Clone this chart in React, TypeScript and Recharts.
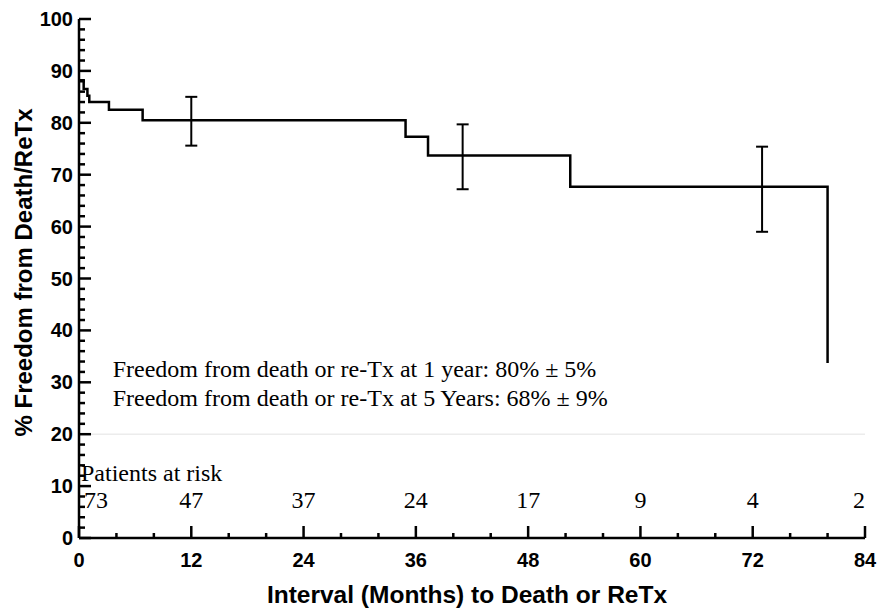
import {
  ComposedChart,
  Line,
  Scatter,
  ErrorBar,
  XAxis,
  YAxis,
  ReferenceLine,
  ReferenceDot,
} from "recharts";

// Kaplan-Meier step curve: months vs % freedom from death / re-Tx
const stepMonths = [0, 0.5, 0.9, 1.1, 3.2, 6.8, 34.9, 37.3, 52.5, 80];
const stepFreedom = [88.2, 86.5, 85.2, 84.0, 82.5, 80.5, 77.3, 73.7, 67.7, 33.7];

// confidence bars (lower / upper distance from the curve)
const barMonths = [12, 41, 73];
const barFreedom = [80.5, 73.7, 67.7];
const barLower = [4.9, 6.5, 8.7];
const barUpper = [4.5, 6.0, 7.7];

// patients at risk row
const riskMonths = [0, 12, 24, 36, 48, 60, 72, 84];
const riskCounts = [73, 47, 37, 24, 17, 9, 4, 2];

const xTicks = Array.from({ length: 22 }, (_, i) => i * 4); // minor every 4, major every 12
const yTicks = Array.from({ length: 51 }, (_, i) => i * 2); // minor every 2, major every 10

const summaryLines = [
  "Freedom from death or re-Tx at 1 year: 80% \u00b1 5%",
  "Freedom from death or re-Tx at 5 Years: 68% \u00b1 9%",
];

const SANS = "'Liberation Sans', Arial, sans-serif";
const SERIF = "'Liberation Serif', 'Times New Roman', serif";

const stepData = stepMonths.map((m, i) => ({ x: m, y: stepFreedom[i] }));
const barData = barMonths.map((m, i) => ({
  x: m,
  y: barFreedom[i],
  err: [barLower[i], barUpper[i]],
}));

const XTick = ({ x, y, payload }: any) => {
  const v = payload.value;
  const major = v % 12 === 0;
  return (
    <g>
      <line x1={x} x2={x} y1={y} y2={y - (major ? 12 : 5)} stroke="#000" strokeWidth={2.5} />
      {major && (
        <text x={x} y={y + 29} textAnchor="middle" fontFamily={SANS} fontWeight="bold" fontSize={20} fill="#000">
          {v}
        </text>
      )}
    </g>
  );
};

const YTick = ({ x, y, payload }: any) => {
  const v = payload.value;
  const major = v % 10 === 0;
  return (
    <g>
      <line x1={x} x2={x + (major ? 12 : 6)} y1={y} y2={y} stroke="#000" strokeWidth={2.5} />
      {major && (
        <text x={x - 6} y={y + 7} textAnchor="end" fontFamily={SANS} fontWeight="bold" fontSize={20} fill="#000">
          {v}
        </text>
      )}
    </g>
  );
};

const yTitle = ({ viewBox }: any) => (
  <text
    transform={`translate(${viewBox.x + 23}, ${viewBox.y + viewBox.height / 2 - 6}) rotate(-90)`}
    textAnchor="middle"
    dominantBaseline="central"
    fontFamily={SANS}
    fontWeight="bold"
    fontSize={24}
    fill="#000"
  >
    % Freedom from Death/ReTx
  </text>
);

const xTitle = ({ viewBox }: any) => (
  <text
    x={viewBox.x + viewBox.width / 2 - 5}
    y={viewBox.y + 65}
    textAnchor="middle"
    fontFamily={SANS}
    fontWeight="bold"
    fontSize={24.5}
    fill="#000"
  >
    Interval (Months) to Death or ReTx
  </text>
);

const serifText = (text: string, anchor: string, dx = 0) => (p: any) => (
  <text x={p.cx + dx} y={p.cy} textAnchor={anchor} fontFamily={SERIF} fontSize={24} fill="#000">
    {text}
  </text>
);

export default function App() {
  return (
    <div style={{ position: "absolute", left: 0, top: 0, background: "#fff" }}>
      <ComposedChart width={878} height={609} margin={{ top: 19, right: 13, left: 0, bottom: 0 }}>
        <XAxis
          type="number"
          dataKey="x"
          domain={[0, 84]}
          ticks={xTicks}
          interval={0}
          height={71}
          tickSize={0}
          tickMargin={0}
          tickLine={false}
          tick={<XTick />}
          axisLine={{ stroke: "#000", strokeWidth: 2.5 }}
          label={xTitle}
        />
        <YAxis
          type="number"
          domain={[0, 100]}
          ticks={yTicks}
          interval={0}
          width={79}
          tickSize={0}
          tickMargin={0}
          tickLine={false}
          tick={<YTick />}
          axisLine={{ stroke: "#000", strokeWidth: 2.5 }}
          label={yTitle}
        />
        <ReferenceLine y={20} stroke="#ececec" strokeWidth={1.5} />
        <Line
          data={stepData}
          dataKey="y"
          type="stepAfter"
          stroke="#000"
          strokeWidth={2.5}
          dot={false}
          isAnimationActive={false}
        />
        <Scatter data={barData} dataKey="y" shape={() => <g />} isAnimationActive={false}>
          <ErrorBar dataKey="err" direction="y" width={6} stroke="#000" strokeWidth={2} isAnimationActive={false} />
        </Scatter>
        {summaryLines.map((t, i) => (
          <ReferenceDot key={t} x={3.6} y={i === 0 ? 31.0 : 25.5} r={0} shape={serifText(t, "start")} />
        ))}
        <ReferenceDot x={0} y={11} r={0} shape={serifText("Patients at risk", "start", 2)} />
        {riskMonths.map((m, i) => (
          <ReferenceDot
            key={m}
            x={m}
            y={5.8}
            r={0}
            shape={serifText(
              String(riskCounts[i]),
              i === 0 ? "start" : i === riskMonths.length - 1 ? "end" : "middle",
              i === 0 ? 5 : 0,
            )}
          />
        ))}
      </ComposedChart>
    </div>
  );
}
